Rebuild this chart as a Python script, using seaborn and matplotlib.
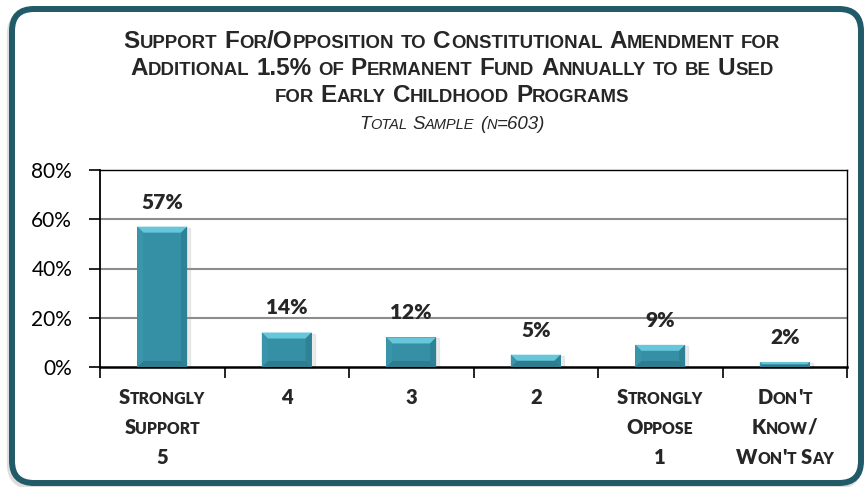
import numpy as np
import matplotlib
matplotlib.use("Agg")
import matplotlib.pyplot as plt
import seaborn as sns
from matplotlib.patches import FancyBboxPatch, Polygon, Rectangle
from matplotlib.transforms import IdentityTransform

# --- dados ---
categories = ["Strongly\nSupport\n5", "4", "3", "2", "Strongly\nOppose\n1", "Don't\nKnow/\nWon't Say"]
values = [57, 14, 12, 5, 9, 2]
y_ticks = [0, 20, 40, 60, 80]
title_lines = ["Support For/Opposition to Constitutional Amendment for",
               "Additional 1.5% of Permanent Fund Annually to be Used",
               "for Early Childhood Programs"]
subtitle = "Total Sample (n=603)"

W, H = 867, 487
TEAL = "#215a68"
BAR = "#3590a6"

sns.set_theme(style="white")
TITLE_FONT = ["Liberation Sans", "DejaVu Sans"]
LABEL_FONT = ["Lato", "DejaVu Sans"]
plt.rcParams["font.family"] = LABEL_FONT

fig = plt.figure(figsize=(W / 100, H / 100), dpi=100)
renderer = fig.canvas.get_renderer()

# moldura arredondada
shadow = FancyBboxPatch((10, 1), 849, 474, boxstyle="round,pad=0,rounding_size=22",
                        transform=IdentityTransform(), facecolor="none",
                        edgecolor="#c8c8c8", linewidth=4.5, alpha=0.6, zorder=-3)
frame = FancyBboxPatch((12, 4), 849, 474, boxstyle="round,pad=0,rounding_size=22",
                       transform=IdentityTransform(), facecolor="white",
                       edgecolor=TEAL, linewidth=4.3, zorder=-2)
fig.add_artist(shadow)
fig.add_artist(frame)

ax = fig.add_axes([100 / W, (H - 367) / H, 747 / W, 197 / H])
ax.set_facecolor("none")
sns.barplot(x=categories, y=values, color=BAR, width=0.4, saturation=1,
            edgecolor="none", ax=ax, zorder=3)
ax.set_ylim(0, 80)
ax.set_xlim(-0.5, len(categories) - 0.5)
ax.set_yticks(y_ticks)
ax.set_yticklabels([f"{t}%" for t in y_ticks], fontsize=15, color="black")
ax.set_xticks(np.arange(-0.5, len(categories), 1))
ax.set_xticklabels([])
ax.tick_params(axis="y", length=8, width=1.2, direction="out", pad=12, left=True, color="black")
ax.tick_params(axis="x", length=8, width=1.2, direction="out", bottom=True, color="black")
ax.set_xlabel("")
ax.set_ylabel("")
for s in ax.spines.values():
    s.set_visible(True)
    s.set_color("black")
    s.set_linewidth(1.0)
ax.spines["bottom"].set_linewidth(1.8)
ax.spines["left"].set_linewidth(1.3)
for t in [20, 40, 60]:
    ax.axhline(t, color="#8c8c8c", lw=1.5, zorder=1)

# efeito de bisel nas barras
for p in list(ax.patches):
    (L, B), (R, T) = ax.transData.transform([(p.get_x(), 0), (p.get_x() + p.get_width(), p.get_height())])
    b = min(6, (T - B) / 2, (R - L) / 2)
    ax.add_patch(Rectangle((L + 2, B - 1), R - L + 1, T - B, transform=IdentityTransform(),
                           color="#999999", alpha=0.18, zorder=2, clip_on=False))
    faces = [
        ([(L, T), (R, T), (R - b, T - b), (L + b, T - b)], "#66c6da"),
        ([(L, B), (R, B), (R - b, B + b), (L + b, B + b)], "#2e7c8e"),
        ([(L, B), (L, T), (L + b, T - b), (L + b, B + b)], "#3a95ab"),
        ([(R, B), (R, T), (R - b, T - b), (R - b, B + b)], "#2f8196"),
    ]
    for pts, c in faces:
        ax.add_patch(Polygon(pts, closed=True, transform=IdentityTransform(),
                             facecolor=c, edgecolor="none", zorder=4, clip_on=False))

for i, v in enumerate(values):
    ax.annotate(f"{v}%", (i, v), xytext=(0, 13), textcoords="offset points",
                ha="center", va="baseline", fontsize=15, fontweight="heavy", zorder=5)


# --- versalete (small caps) ---
def space_w(size, family, **kw):
    a = fig.text(0, 0, "x x", fontsize=size, family=family, **kw)
    b = fig.text(0, 0, "xx", fontsize=size, family=family, **kw)
    w = a.get_window_extent(renderer).width - b.get_window_extent(renderer).width
    a.remove()
    b.remove()
    return w


def small_caps(cx, y, s, big, small, family, gap=0.0, **kw):
    groups = []
    for ch in s:
        kind = "sp" if ch == " " else ("sm" if ch.islower() else "bg")
        if groups and groups[-1][1] == kind:
            groups[-1][0] += ch
        else:
            groups.append([ch, kind])
    sw = space_w(big, family, **kw)
    x = 0
    pieces = []
    for txt, kind in groups:
        if kind == "sp":
            x += sw * len(txt)
            continue
        size = small if kind == "sm" else big
        t = fig.text(0, 0, txt.upper(), fontsize=size, family=family, ha="left",
                     va="baseline", transform=IdentityTransform(), **kw)
        w = t.get_window_extent(renderer).width
        pieces.append((t, x))
        x += w + gap
    for t, off in pieces:
        t.set_position((cx - x / 2 + off, H - y))


for line, yb in zip(title_lines, [48, 75, 102]):
    small_caps(452, yb, line, 17.5, 13.4, TITLE_FONT, fontweight="bold")
small_caps(452, 129, subtitle, 13.5, 10.5, TITLE_FONT, fontstyle="italic")

for i, cat in enumerate(categories):
    cx = ax.transData.transform((i, 0))[0]
    for j, line in enumerate(cat.split("\n")):
        small_caps(cx, 404 + 30 * j, line, 14.5, 11.3, LABEL_FONT, fontweight="heavy")

fig.savefig("out.png", dpi=100)
